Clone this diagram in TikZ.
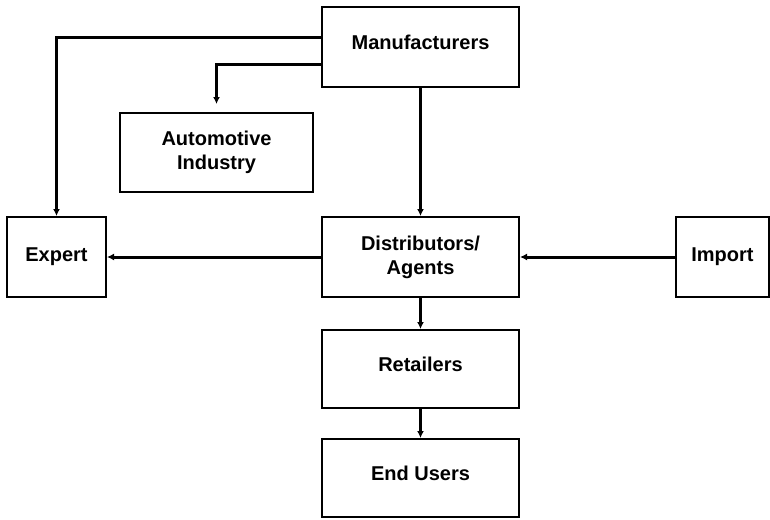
\documentclass[tikz,border=0pt]{standalone}
\usepackage{fontspec}
\setmainfont{Liberation Sans}
\usetikzlibrary{arrows.meta,positioning}
\tikzset{
  unit/.style={draw, line width=2pt, minimum width=197pt, minimum height=80pt,
    inner sep=0pt, align=center, font=\bfseries\fontsize{20}{24}\selectfont},
  raised/.style={text depth=10pt},
  flow/.style={line width=3pt, -{Latex[length=7pt,width=7pt]}},
}
\begin{document}
\begin{tikzpicture}[x=1pt,y=-1pt]
  \useasboundingbox (0,0) rectangle (770,519);
  % boxes
  \node[unit, raised] (manuf) at (420.5,47) {Manufacturers};
  \node[unit, minimum width=193pt, minimum height=79pt] (auto) at (216.5,152.5) {Automotive\\Industry};
  \node[unit] (dist) at (420.5,257) {Distributors/\\Agents};
  \node[unit, minimum width=99pt] (expert) at (56.5,257) {Expert};
  \node[unit, minimum width=93pt] (import) at (722.5,257) {Import};
  \node[unit, raised, minimum height=78pt] (retail) at (420.5,369) {Retailers};
  \node[unit, raised, minimum height=78pt] (users) at (420.5,478) {End Users};
  % flows
  \draw[flow] ([yshift=9pt]manuf.west) -| (expert.north);
  \draw[flow, shorten >=8pt] ([yshift=-17pt]manuf.west) -| (auto.north);
  \draw[flow] (manuf.south) -- (dist.north);
  \draw[flow] (dist.west) -- (expert.east);
  \draw[flow] (import.west) -- (dist.east);
  \draw[flow] (dist.south) -- (retail.north);
  \draw[flow] (retail.south) -- (users.north);
\end{tikzpicture}
\end{document}
